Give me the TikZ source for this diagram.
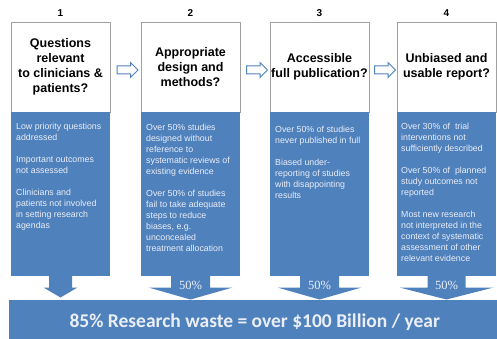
\documentclass[tikz,border=0pt]{standalone}
\usepackage{fontspec}
\setmainfont{Liberation Sans}
\newfontfamily\bannerfont{Carlito}
\newfontfamily\pctfont{Liberation Serif}
\usetikzlibrary{positioning,calc,shapes.arrows}
\definecolor{wasteblue}{RGB}{79,129,189}
\definecolor{edgegray}{RGB}{160,160,160}
\definecolor{paletext}{RGB}{234,238,246}
\tikzset{
  stagebox/.style={draw=edgegray, fill=white, minimum width=99pt,
    minimum height=90pt, align=center, inner sep=0pt, outer sep=0pt,
    font=\fontsize{12.5}{15}\selectfont\bfseries},
  lossbox/.style={fill=wasteblue, minimum width=99pt, minimum height=163.5pt,
    inner sep=0pt, outer sep=0pt},
  losstext/.style={align=left, inner sep=0pt, text=paletext,
    font=\fontsize{8.8}{11}\selectfont},
  stagenum/.style={inner sep=0pt, font=\fontsize{10}{12}\selectfont\bfseries},
  nextarrow/.style={single arrow, draw=wasteblue, fill=white, line width=1pt,
    minimum height=21pt, inner sep=3.5pt, single arrow head extend=3.5pt},
  pct/.style={inner sep=0pt, text=paletext, font=\pctfont\fontsize{12.5}{14}\selectfont},
}
\begin{document}
\begin{tikzpicture}[x=1pt, y=1pt]
  \useasboundingbox (0,0) rectangle (497,-339);
  % The four questions asked of research.
  \node[stagebox] (q1) at (60.5,-67) {Questions\\relevant\\to clinicians \&\\patients?};
  \node[stagebox, right=31pt of q1] (q2) {Appropriate\\design and\\methods?};
  \node[stagebox, right=30pt of q2] (q3) {Accessible\\full publication?};
  \node[stagebox, right=28pt of q3] (q4) {Unbiased and\\usable report?};
  \foreach \k in {1,...,4}
    \node[stagenum, above=5pt of q\k] (n\k) {\k};
  % Hollow arrows from one stage to the next.
  \node[nextarrow] (a12) at ($(q1.east)!0.5!(q2.west)+(0,-3)$) {};
  \node[nextarrow] (a23) at ($(q2.east)!0.5!(q3.west)+(0,-3)$) {};
  \node[nextarrow] (a34) at ($(q3.east)!0.5!(q4.west)+(0,-3)$) {};
  % Blue panels listing the losses at each stage.
  \foreach \k in {1,...,4}
    \node[lossbox, below=0pt of q\k] (b\k) {};
  \node[losstext, below right=11pt and 5pt of b1.north west] (t1)
    {Low priority questions\\addressed\\[11pt]Important outcomes\\not assessed\\[11pt]%
     Clinicians and\\patients not involved\\in setting research\\agendas};
  \node[losstext, below right=12pt and 5pt of b2.north west] (t2)
    {Over 50\% studies\\designed without\\reference to\\systematic reviews of\\existing evidence\\[11pt]%
     Over 50\% of studies\\fail to take adequate\\steps to reduce\\biases, e.g.\\unconcealed\\treatment allocation};
  \node[losstext, below right=14pt and 5pt of b3.north west] (t3)
    {Over 50\% of studies\\never published in full\\[11pt]Biased under-\\reporting of studies\\%
     with disappointing\\results};
  \node[losstext, below right=11pt and 4pt of b4.north west] (t4)
    {Over 30\% of\ \ trial\\interventions not\\sufficiently described\\[11pt]%
     Over 50\% of\ \ planned\\study outcomes not\\reported\\[11pt]%
     Most new research\\not interpreted in the\\context of systematic\\assessment of other\\relevant evidence};
  % Bottom banner with the total waste.
  \node[fill=wasteblue, minimum width=491pt, minimum height=44pt, inner sep=0pt,
    anchor=north west, text=paletext, font=\bannerfont\fontsize{19.5}{22}\selectfont\bfseries]
    (w) at (9,-300) {85\% Research waste = over \$100 Billion / year};
  % Block arrows from the panels down into the banner.
  \foreach \k/\s/\h/\t in {1/11.5/17/22, 2/19.5/42/24, 3/19.5/42/24, 4/19/47/24}
    \fill[wasteblue] ($(b\k.south)+(-\s,0)$) -- ++(0,-12) -- ++({\s-\h},0)
      -- ($(b\k.south)+(0,-\t)$) -- ($(b\k.south)+(\h,-12)$)
      -- ($(b\k.south)+(\s,-12)$) -- ($(b\k.south)+(\s,0)$) -- cycle;
  \foreach \k in {2,3,4}
    \node[pct] (p\k) at ($(b\k.south)+(0,-9.5)$) {50\%};
\end{tikzpicture}
\end{document}
